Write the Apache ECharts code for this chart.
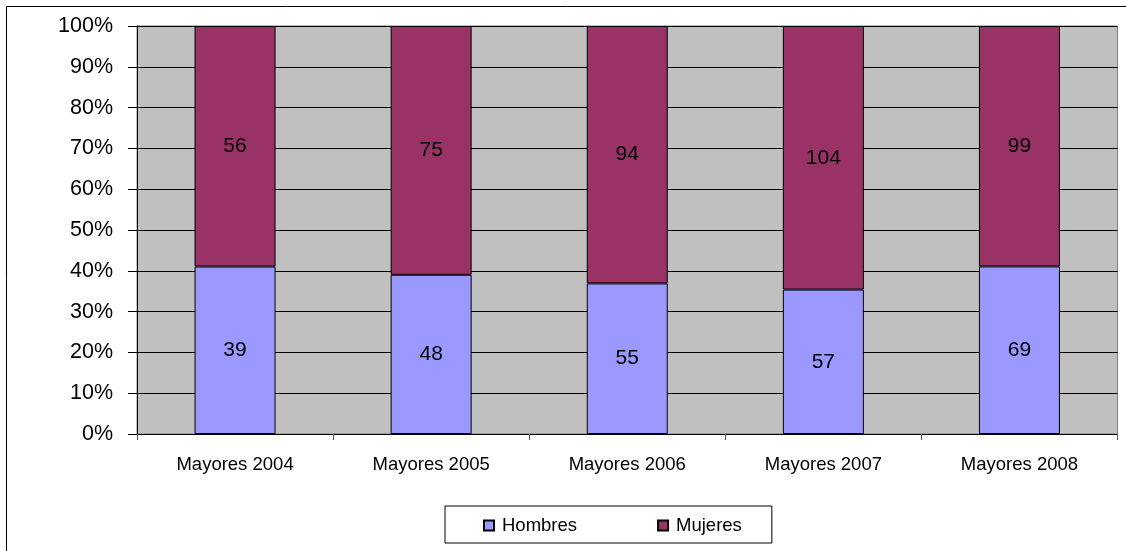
<!DOCTYPE html>
<html>
<head>
    <meta charset="UTF-8">
    <title>Mayores</title>
    <script src="https://cdn.jsdelivr.net/npm/echarts@6/dist/echarts.min.js"></script>
</head>
<body style="margin: 0; background: #fff;">
<div id="container" style="width: 1126px; height: 551px;"></div>
<script type="text/javascript">
    // datos
    var categorias = ['Mayores 2004', 'Mayores 2005', 'Mayores 2006', 'Mayores 2007', 'Mayores 2008'];
    var hombres = [39, 48, 55, 57, 69];
    var mujeres = [56, 75, 94, 104, 99];

    var fuente = 'Liberation Sans, Arial, sans-serif';

    // porcentajes para la barra apilada al 100%
    var pctHombres = [], pctMujeres = [];
    for (var i = 0; i < categorias.length; i++) {
        var total = hombres[i] + mujeres[i];
        pctHombres.push(hombres[i] / total * 100);
        pctMujeres.push(mujeres[i] / total * 100);
    }

    var myChart = echarts.init(document.getElementById('container'));

    var labelOption = {
        show: true,
        position: 'inside',
        color: '#000',
        fontFamily: fuente,
        fontSize: 21
    };

    var option = {
        animation: false,
        textStyle: {fontFamily: fuente},
        graphic: [{
            type: 'rect',
            shape: {x: 6.5, y: 6.5, width: 1200, height: 600},
            style: {fill: 'none', stroke: '#000', lineWidth: 1},
            silent: true
        }],
        grid: {
            left: 137,
            right: 8.5,
            top: 26,
            bottom: 117,
            show: true,
            backgroundColor: '#C0C0C0',
            borderColor: '#808080',
            borderWidth: 1
        },
        legend: {
            left: 445,
            top: 506,
            padding: [10, 30, 8, 38],
            itemGap: 80,
            itemWidth: 10,
            itemHeight: 10,
            icon: 'rect',
            borderColor: '#000',
            borderWidth: 1,
            textStyle: {fontFamily: fuente, fontSize: 18.5, color: '#000', padding: [0, 0, 0, 3]},
            data: ['Hombres', 'Mujeres']
        },
        xAxis: {
            type: 'category',
            data: categorias,
            axisLine: {lineStyle: {color: '#000', width: 1}},
            axisTick: {show: true, length: 6, lineStyle: {color: '#555'}},
            axisLabel: {color: '#000', fontSize: 18.5, margin: 21, fontFamily: fuente}
        },
        yAxis: {
            type: 'value',
            min: 0,
            max: 100,
            interval: 10,
            axisLine: {show: true, lineStyle: {color: '#000', width: 1}},
            axisTick: {show: true, length: 9, lineStyle: {color: '#000'}},
            axisLabel: {color: '#000', fontSize: 21.5, margin: 24, fontFamily: fuente, formatter: '{value}%'},
            splitLine: {show: true, lineStyle: {color: '#000', width: 1}}
        },
        series: [
            {
                name: 'Hombres',
                type: 'bar',
                stack: 'total',
                barWidth: 81,
                data: pctHombres,
                itemStyle: {color: '#9999FF', borderColor: '#000', borderWidth: 1},
                label: Object.assign({}, labelOption, {
                    formatter: function (p) { return hombres[p.dataIndex]; }
                })
            },
            {
                name: 'Mujeres',
                type: 'bar',
                stack: 'total',
                barWidth: 81,
                data: pctMujeres,
                itemStyle: {color: '#993366', borderColor: '#000', borderWidth: 1},
                label: Object.assign({}, labelOption, {
                    formatter: function (p) { return mujeres[p.dataIndex]; }
                })
            }
        ]
    };

    myChart.setOption(option, true);
</script>
</body>
</html>
